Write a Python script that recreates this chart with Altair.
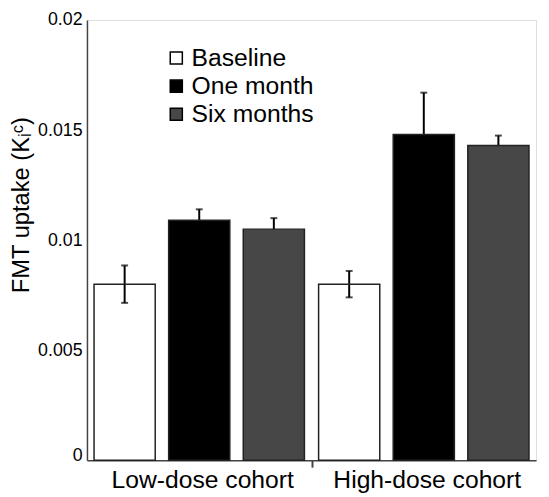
import altair as alt
import pandas as pd

cohorts = ["Low-dose cohort", "High-dose cohort"]
timepoints = ["Baseline", "One month", "Six months"]
means_low = [0.0080, 0.0109, 0.0105]
errs_low = [0.00085, 0.0005, 0.0005]
means_high = [0.0080, 0.0148, 0.0143]
errs_high = [0.0006, 0.0019, 0.00045]
y_ticks = [0, 0.005, 0.01, 0.015, 0.02]
bar_colors = ["#ffffff", "#000000", "#474747"]

rows = []
for cohort, means, errs in [(cohorts[0], means_low, errs_low), (cohorts[1], means_high, errs_high)]:
    for t, m, e in zip(timepoints, means, errs):
        rows.append({"cohort": cohort, "time": t, "mean": m, "lo": m - e, "hi": m + e})
df = pd.DataFrame(rows)

FONT = "Liberation Sans"

x_enc = alt.X(
    "cohort:N", sort=cohorts, title=None,
    scale=alt.Scale(paddingInner=0, paddingOuter=0),
    axis=alt.Axis(
        labelAngle=0, labelFontSize=25, labelFont=FONT, labelColor="black", labelLimit=0,
        labelPadding=1, labelOffset=3, tickSize=7, tickBand="extent", tickWidth=2, tickColor="#444",
        tickOpacity={"condition": {"test": "datum.value === 'Low-dose cohort'", "value": 1}, "value": 0},
        domainColor="#444", domainWidth=1.5, grid=False,
    ),
)
xo_enc = alt.XOffset("time:N", sort=timepoints,
                     scale=alt.Scale(paddingInner=0.18, paddingOuter=0.095))
y_scale = alt.Scale(domain=[0, 0.02], nice=False, zero=True)

base = alt.Chart(df)

rule = base.mark_rule(color="black", strokeWidth=2).encode(
    x=x_enc, xOffset=xo_enc, y=alt.Y("lo:Q", scale=y_scale), y2="hi:Q"
)
cap_hi = base.mark_tick(color="black", thickness=2, size=7).encode(
    x=x_enc, xOffset=xo_enc, y=alt.Y("hi:Q", scale=y_scale)
)
cap_lo = base.mark_tick(color="black", thickness=2, size=7).encode(
    x=x_enc, xOffset=xo_enc, y=alt.Y("lo:Q", scale=y_scale)
)

bars = base.mark_bar(stroke="#222", strokeWidth=1.5).encode(
    x=x_enc,
    xOffset=xo_enc,
    y=alt.Y(
        "mean:Q", scale=y_scale, title="FMT uptake (Kᵢᶜ)",
        axis=alt.Axis(
            values=y_ticks, ticks=False, grid=False, labelFontSize=18, labelFont=FONT,
            labelColor="black", labelPadding=5,
            labelBaseline={"condition": {"test": "datum.value === 0", "value": "alphabetic"}, "value": "middle"},
            labelExpr="datum.value === 0 ? '0' : format(datum.value, '.3~f')",
            domainColor="#444", domainWidth=1.5,
            titleFontSize=24, titleFont=FONT, titleFontWeight="normal", titleColor="black",
            titleX=-66, titleY=187, titleAngle=270, titleAlign="center", titleBaseline="middle",
        ),
    ),
    fill=alt.Fill(
        "time:N", sort=timepoints, title=None,
        scale=alt.Scale(domain=timepoints, range=bar_colors),
        legend=alt.Legend(
            orient="none", legendX=78, legendY=26, symbolType="square", symbolSize=150,
            symbolStrokeColor="black", symbolStrokeWidth=1.5, symbolOpacity=1,
            labelFontSize=25, labelFont=FONT, labelColor="black", rowPadding=2.5,
            labelOffset=3,
        ),
    ),
    fillOpacity=alt.condition(alt.datum.time == "Baseline", alt.value(0), alt.value(1)),
)

chart = alt.layer(rule, cap_hi, cap_lo, bars).properties(
    width=455, height=446,
    autosize=alt.AutoSizeParams(type="none"),
    padding={"left": 80, "top": 9, "right": 5, "bottom": 30},
).configure_view(stroke=None).configure(background="white")

chart.save("out.html", embed_options={"renderer": "svg", "actions": False})
